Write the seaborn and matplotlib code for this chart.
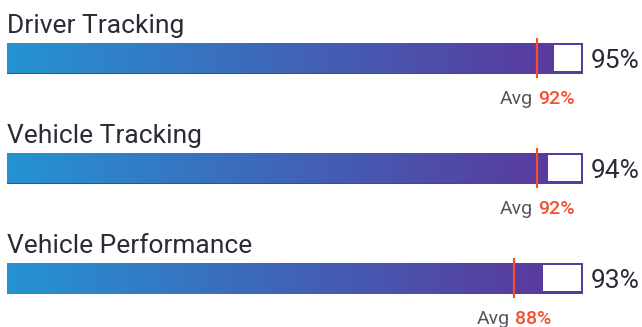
import numpy as np
import pandas as pd
import matplotlib
matplotlib.use("Agg")
import matplotlib.pyplot as plt
import seaborn as sns
from matplotlib.colors import LinearSegmentedColormap

categories = ["Driver Tracking", "Vehicle Tracking", "Vehicle Performance"]
values = [95, 94, 93]
averages = [92, 92, 88]

sns.set_style("white")
plt.rcParams['font.family'] = ['Roboto', 'DejaVu Sans']

W, H = 642, 327
fig = plt.figure(figsize=(W / 100, H / 100), dpi=100)
x0, x1 = 7, 583
ax = fig.add_axes([x0 / W, 0, (x1 - x0) / W, 1])
step = 110.0
top_center = 58.0
px = 100 / (x1 - x0)

df = pd.DataFrame({"cat": categories, "val": values, "track": [100] * 3})
bh = 31 / step
purple = "#5a3a9e"
# track (purple frame)
sns.barplot(data=df, x="track", y="cat", orient="h", color=purple,
            linewidth=0, width=bh, ax=ax, saturation=1)
n_track = len(ax.patches)
# filled part
sns.barplot(data=df, x="val", y="cat", orient="h", color=purple,
            linewidth=0, width=bh, ax=ax, saturation=1)

cmap = LinearSegmentedColormap.from_list("g", ["#2593d3", "#3f66b8", purple])
grad = np.linspace(0, 1, 256).reshape(1, -1)
for p in ax.patches[n_track:]:
    x, y = p.get_x(), p.get_y()
    w, h = p.get_width(), p.get_height()
    p.set_facecolor("none")
    im = ax.imshow(grad, cmap=cmap, aspect="auto",
                   extent=[x, x + w, y + h, y], zorder=p.get_zorder() + 0.1)
    im.set_clip_path(p)

# remaining white part inside the frame
inset = 2.5
ypos = np.arange(len(categories))
ax.barh(ypos, [100 - inset * px - v for v in values], left=values,
        height=bh - 2 * inset / step, color="white", linewidth=0, zorder=5)

ax.set_xlim(0, 100)
ax.set_ylim((H - top_center) / step, -top_center / step)
ax.axis("off")

red = "#f4502f"
for i, (c, v, a) in enumerate(zip(categories, values, averages)):
    ax.text(0, i - 25 / step, c, fontsize=19, color="#2b2b38",
            va="baseline", ha="left", clip_on=False)
    ax.text(100 + 8 * px, i + 10 / step, f"{v}%", fontsize=19,
            color="#2b2b38", va="baseline", ha="left", clip_on=False)
    ax.plot([a, a], [i - 20 / step, i + 20 / step], color=red, lw=1.6,
            zorder=10, solid_capstyle="butt")
    ax.text(a - 4 * px, i + 46 / step, "Avg", fontsize=14, color="#555560",
            va="baseline", ha="right", clip_on=False)
    ax.text(a + 1 * px, i + 46 / step, f"{a}%", fontsize=14, color=red,
            va="baseline", ha="left", clip_on=False, fontweight="medium")

fig.savefig("out.png", dpi=100)
